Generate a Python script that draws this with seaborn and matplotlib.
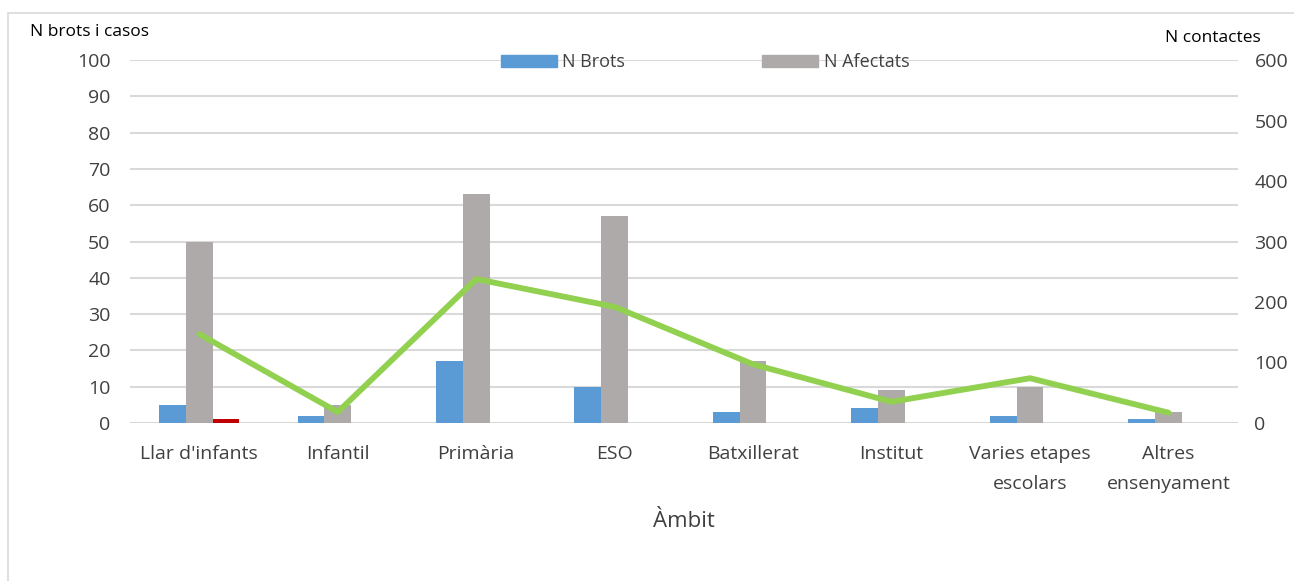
import numpy as np
import pandas as pd
import matplotlib
matplotlib.use("Agg")
import matplotlib.pyplot as plt
import seaborn as sns
from matplotlib.patches import Patch, Rectangle

# Data
categories = ["Llar d'infants", "Infantil", "Primària", "ESO", "Batxillerat",
              "Institut", "Varies etapes\nescolars", "Altres\nensenyament"]
n_brots = [5, 2, 17, 10, 3, 4, 2, 1]
n_afectats = [50, 5, 63, 57, 17, 9, 10, 3]
n_altres = [1, 0, 0, 0, 0, 0, 0, 0]
n_contactes = [147, 18, 238, 192, 97, 35, 74, 17]

series_names = ["N Brots", "N Afectats", "Serie3"]
colors = ["#5B9BD5", "#AEAAAA", "#C00000"]

df = pd.DataFrame({
    "ambit": categories * 3,
    "serie": np.repeat(series_names, len(categories)),
    "valor": n_brots + n_afectats + n_altres,
})

sns.set_theme(style="white")
plt.rcParams["font.family"] = ["Open Sans", "DejaVu Sans"]

fig = plt.figure(figsize=(12.94, 5.81), dpi=100)
ax = fig.add_axes([0.1005, 0.272, 0.856, 0.6245])

sns.barplot(data=df, x="ambit", y="valor", hue="serie", palette=colors,
            width=0.58, ax=ax, saturation=1, legend=False, zorder=3,
            linewidth=0, edgecolor="none")

ax.set_ylim(0, 100)
ax.set_yticks(range(0, 101, 10))
ax.set_xlim(-0.5, len(categories) - 0.5)
ax.yaxis.grid(True, color="#D9D9D9", linewidth=1.5, zorder=0)
ax.set_axisbelow(True)
for s in ax.spines.values():
    s.set_visible(False)
ax.tick_params(axis="y", length=0, pad=14, labelsize=14, labelcolor="#404040")
ax.tick_params(axis="x", length=0, pad=16, labelsize=14, labelcolor="#404040")
for lbl in ax.get_xticklabels():
    lbl.set_linespacing(1.85)
ax.set_ylabel("")
ax.set_xlabel("Àmbit", fontsize=16, color="#404040", labelpad=13)

ax2 = ax.twinx()
sns.lineplot(x=range(len(categories)), y=n_contactes, ax=ax2,
             color="#92D050", linewidth=4.2, zorder=4)
ax2.set_ylim(0, 600)
ax2.set_yticks(range(0, 601, 100))
for s in ax2.spines.values():
    s.set_visible(False)
ax2.tick_params(axis="y", length=0, pad=12, labelsize=14, labelcolor="#404040")
ax2.set_ylabel("")

fig.text(0.023, 0.945, "N brots i casos", fontsize=12.5, color="#000000", va="center")
fig.text(0.974, 0.935, "N contactes", fontsize=12.5, color="#000000", va="center", ha="right")

handles = [Patch(color=colors[0]), Patch(color=colors[1])]
fig.legend(handles, series_names[:2], loc="center", bbox_to_anchor=(0.545, 0.893),
           ncol=2, frameon=False, fontsize=13, handlelength=3.1, handleheight=0.6,
           columnspacing=7.6, handletextpad=0.3, labelcolor="#404040")

fig.patches.append(Rectangle((0.006, -0.01), 1.0, 0.988, transform=fig.transFigure,
                             fill=False, edgecolor="#D9D9D9", linewidth=1.2))

fig.savefig("out.png", dpi=100)
